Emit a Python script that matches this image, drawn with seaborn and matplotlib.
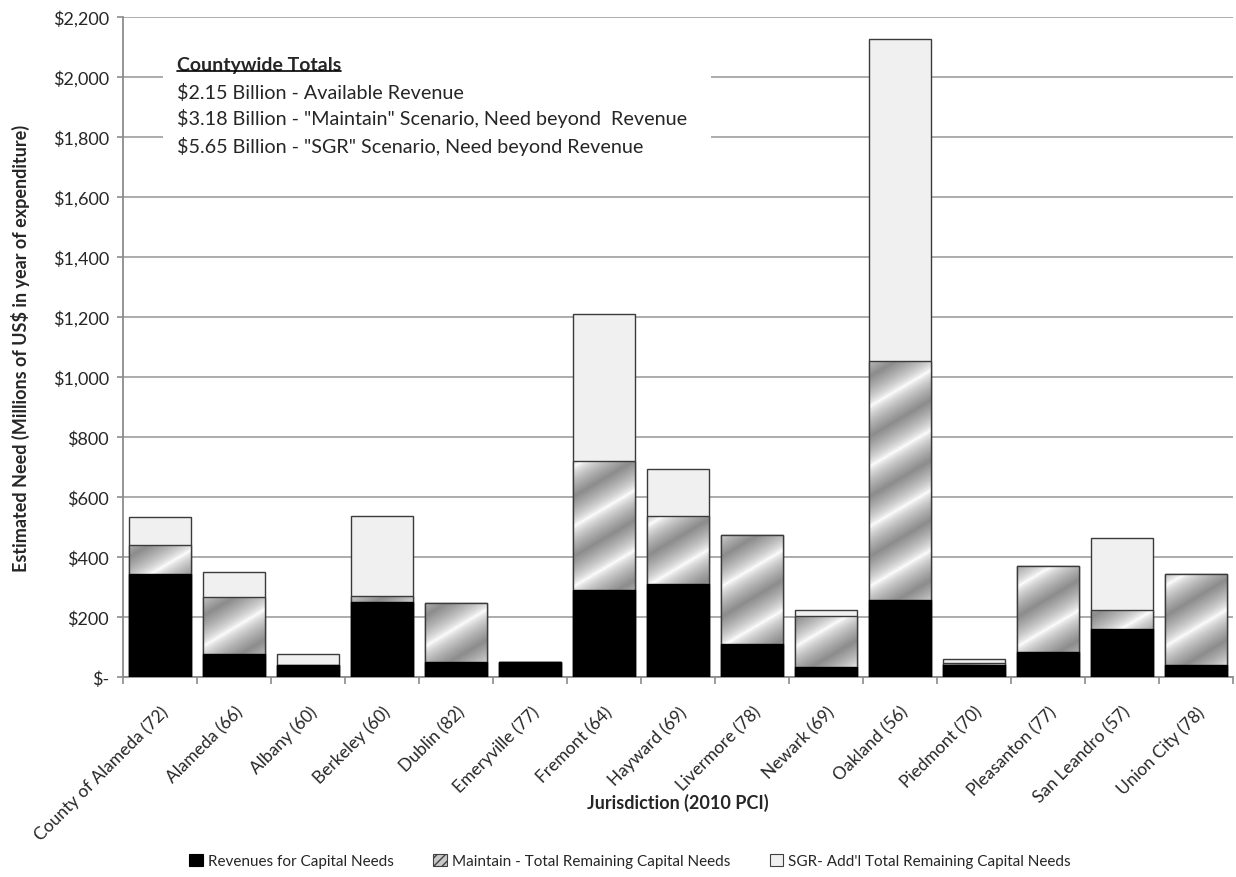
import numpy as np
import matplotlib
matplotlib.use("Agg")
import matplotlib.pyplot as plt
from matplotlib.patches import Patch, Rectangle
from matplotlib.lines import Line2D
from matplotlib.ticker import FuncFormatter, FixedLocator
import matplotlib.transforms as mtransforms
import seaborn as sns

# ---------------- data (millions of US$) ----------------
jurisdictions = ["County of Alameda (72)", "Alameda (66)", "Albany (60)", "Berkeley (60)",
                 "Dublin (82)", "Emeryville (77)", "Fremont (64)", "Hayward (69)",
                 "Livermore (78)", "Newark (69)", "Oakland (56)", "Piedmont (70)",
                 "Pleasanton (77)", "San Leandro (57)", "Union City (78)"]
revenue = [343, 77, 40, 250, 50, 50, 290, 310, 110, 33, 257, 40, 83, 160, 40]
maintain_need = [97, 190, 0, 20, 197, 0, 430, 227, 363, 170, 796, 7, 287, 63, 305]
sgr_addl_need = [93, 83, 37, 267, 0, 0, 490, 156, 0, 20, 1074, 13, 0, 240, 0]

series_labels = ["Revenues for Capital Needs",
                 "Maintain - Total Remaining Capital Needs",
                 "SGR- Add'l Total Remaining Capital Needs"]
y_ticks = list(range(0, 2201, 200))
note_title = "Countywide Totals"
note_lines = ["$2.15 Billion - Available Revenue",
              "$3.18 Billion - \"Maintain\" Scenario, Need beyond  Revenue",
              "$5.65 Billion - \"SGR\" Scenario, Need beyond Revenue"]

# ---------------- style ----------------
sns.set_style("white")
plt.rcParams["font.family"] = ["Lato", "DejaVu Sans"]

W, H = 1236, 878
fig = plt.figure(figsize=(W / 100, H / 100), dpi=100)
ax = fig.add_axes([123 / W, 1 - 678 / H, (1233 - 123) / W, 660 / H])

rev = np.array(revenue, float)
maint_top = rev + np.array(maintain_need, float)
total_top = maint_top + np.array(sgr_addl_need, float)

edge = "#3a3a3a"
bw = 0.84

# SGR (total) bars
sns.barplot(x=jurisdictions, y=total_top, color="#f0f0f0", saturation=1, width=bw,
            edgecolor=edge, linewidth=1.0, ax=ax, zorder=2)
n0 = len(ax.patches)
# Maintain bars (gradient filled afterwards)
sns.barplot(x=jurisdictions, y=maint_top, color="#b0b0b0", saturation=1, width=bw,
            edgecolor=edge, linewidth=1.0, ax=ax, zorder=3)
maint_patches = ax.patches[n0:]
# Revenue bars
sns.barplot(x=jurisdictions, y=rev, color="black", saturation=1, width=bw,
            edgecolor="black", linewidth=1.0, ax=ax, zorder=4)

ax.set_xlim(-0.5, len(jurisdictions) - 0.5)
ax.set_ylim(0, 2200)

# metallic diagonal gradient for the "Maintain" segments
def metal(h, w):
    yy, xx = np.mgrid[0:h, 0:w]
    py = (h - 1 - yy).astype(float)  # upward pixel coordinate
    s = py - 0.6 * xx
    t = (s / 60.0) % 1.0
    d = np.abs(t - 0.5) * 2
    return 1.0 - 0.45 * d ** 0.7

for p in maint_patches:
    x0, y0 = p.get_x(), p.get_y()
    x1, y1 = x0 + p.get_width(), y0 + p.get_height()
    if y1 - y0 <= 0:
        continue
    (px0, py0), (px1, py1) = ax.transData.transform([(x0, y0), (x1, y1)])
    wpx = max(int(round(px1 - px0)), 2)
    hpx = max(int(round(py1 - py0)), 2)
    img = ax.imshow(metal(hpx, wpx)[::-1], extent=(x0, x1, y0, y1), origin="lower",
                    cmap="gray", vmin=0, vmax=1, aspect="auto", interpolation="bilinear",
                    zorder=3.05)
    img.set_clip_path(p)
    p.set_facecolor("none")
    p.set_zorder(3.1)

ax.set_xlim(-0.5, len(jurisdictions) - 0.5)
ax.set_ylim(0, 2200)
ax.set_aspect("auto")

# grid & spines
ax.set_axisbelow(True)
ax.yaxis.grid(True, color="#a6a6a6", linewidth=1.3)
ax.xaxis.grid(False)
for s in ["top", "right"]:
    ax.spines[s].set_visible(False)
for s in ["left", "bottom"]:
    ax.spines[s].set_color("#8c8c8c")
    ax.spines[s].set_linewidth(1.3)

ax.set_yticks(y_ticks)
ax.yaxis.set_major_formatter(FuncFormatter(lambda v, _: "$-" if v == 0 else f"${v:,.0f}"))
ax.tick_params(axis="y", which="major", length=4, width=1.2, color="#8c8c8c",
               labelsize=13, pad=6, left=True)

ax.xaxis.set_minor_locator(FixedLocator(np.arange(-0.5, len(jurisdictions), 1.0)))
ax.tick_params(axis="x", which="minor", length=5, width=1.2, color="#8c8c8c", bottom=True)
ax.tick_params(axis="x", which="major", length=0, labelsize=12.5, pad=23)
offset = mtransforms.ScaledTranslation(6 / 100, 0, fig.dpi_scale_trans)
for lab in ax.get_xticklabels():
    lab.set_rotation(45)
    lab.set_ha("right")
    lab.set_va("center")
    lab.set_rotation_mode("anchor")
    lab.set_transform(lab.get_transform() + offset)

ax.set_xlabel("Jurisdiction (2010 PCI)", fontsize=13, fontweight="bold")
ax.xaxis.set_label_coords(0.5, -0.175)
ax.set_ylabel("Estimated Need (Millions of US$ in year of expenditure)", fontsize=13,
              fontweight="bold")
ax.yaxis.set_label_coords(-0.084, 0.5)

# annotation block with white background
ax.add_patch(Rectangle(((163 - 123) / 1110, (678 - 170) / 660), (711 - 163) / 1110,
                       (170 - 25) / 660, transform=ax.transAxes, facecolor="white",
                       edgecolor="none", zorder=1.5))
xt = (177 - 123) / 1110
title_txt = ax.text(xt, (678 - 65) / 660, note_title, transform=ax.transAxes, fontsize=14,
                    fontweight="bold", ha="left", va="center", zorder=5)
for yy, line in zip([93, 119, 146], note_lines):
    ax.text(xt, (678 - yy) / 660, line, transform=ax.transAxes, fontsize=14.2,
            ha="left", va="center", zorder=5)

# legend
handles = [Patch(facecolor="black", edgecolor="black", linewidth=0.8),
           Patch(facecolor="#c8c8c8", edgecolor="#404040", hatch="////", linewidth=0.8),
           Patch(facecolor="#f0f0f0", edgecolor="#404040", linewidth=0.8)]
fig.legend(handles, series_labels, loc="center", bbox_to_anchor=(630 / W, 1 - 862 / H),
           ncol=3, frameon=False, fontsize=11, handlelength=0.9, handleheight=0.9,
           handletextpad=0.3, columnspacing=2.6)

# underline for the annotation title
fig.canvas.draw()
bb = title_txt.get_window_extent()
uy = bb.y0 + 2
fig.add_artist(Line2D([bb.x0 / fig.bbox.width, bb.x1 / fig.bbox.width],
                      [uy / fig.bbox.height, uy / fig.bbox.height],
                      transform=fig.transFigure, color="black", linewidth=1.2))

fig.savefig("out.png", dpi=100)
